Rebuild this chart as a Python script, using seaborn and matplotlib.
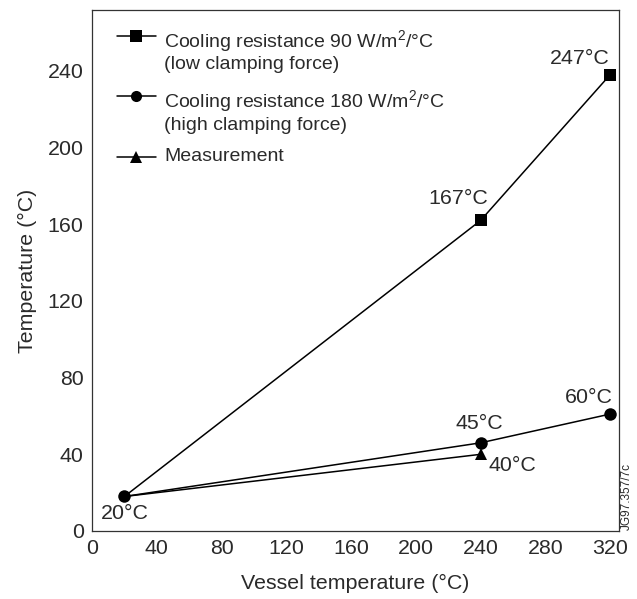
import matplotlib
matplotlib.use("Agg")
import matplotlib.pyplot as plt
import seaborn as sns

# ---- data ----
x_low = [20, 240, 320]
y_low = [18, 162, 238]
x_high = [20, 240, 320]
y_high = [18, 46, 61]
x_meas = [20, 240]
y_meas = [18, 40]

series_labels = [
    "Cooling resistance 90 W/m$^2$/°C\n(low clamping force)",
    "Cooling resistance 180 W/m$^2$/°C\n(high clamping force)",
    "Measurement",
]
point_labels = ["20°C", "167°C", "247°C", "45°C", "40°C", "60°C"]
x_ticks = [0, 40, 80, 120, 160, 200, 240, 280, 320]
y_ticks = [0, 40, 80, 120, 160, 200, 240]

sns.set_theme(style="white")
plt.rcParams["font.family"] = ["Liberation Sans", "DejaVu Sans"]
plt.rcParams["mathtext.fontset"] = "custom"
plt.rcParams["mathtext.rm"] = "Liberation Sans"
plt.rcParams["mathtext.it"] = "Liberation Sans"
TXT = "#2a2a2a"
FS = 15.4
LFS = 14

fig = plt.figure(figsize=(6.37, 5.99), dpi=100)
ax = fig.add_axes([92 / 637, 1 - 531 / 599, 527 / 637, 521 / 599])

common = dict(color="black", markersize=9, linewidth=1.1, markeredgewidth=0, ax=ax)
sns.lineplot(x=x_meas, y=y_meas, marker="^", label=series_labels[2],
             markevery=[1], **common)
sns.lineplot(x=x_low, y=y_low, marker="s", label=series_labels[0],
             markevery=[1, 2], **common)
sns.lineplot(x=x_high, y=y_high, marker="o", label=series_labels[1], **common)

ax.set_xlim(0, 325.5)
ax.set_ylim(0, 271.8)
ax.set_xticks(x_ticks)
ax.set_yticks(y_ticks)
ax.tick_params(direction="in", length=9, width=0.9, colors="#333333",
               labelcolor=TXT, labelsize=FS, pad=6)
for s in ax.spines.values():
    s.set_color("#333333")
    s.set_linewidth(0.9)

ax.set_xlabel("Vessel temperature (°C)", fontsize=FS, color=TXT, labelpad=11)
ax.set_ylabel("Temperature (°C)", fontsize=FS, color=TXT, labelpad=8)

# legend (order: low, high, measurement)
handles, labels = ax.get_legend_handles_labels()
order = [labels.index(l) for l in series_labels]
handles = [handles[i] for i in order]
labels = [labels[i] for i in order]
leg = ax.legend(handles, labels, loc="upper left", bbox_to_anchor=(0.047, 0.966),
                frameon=False, fontsize=LFS, borderpad=0, borderaxespad=0,
                handlelength=2.0, handletextpad=0.45, labelspacing=0.75,
                handleheight=1.2, numpoints=1)
for t in leg.get_texts():
    t.set_color(TXT)
    t.set_linespacing(1.22)
for col in leg._legend_handle_box.get_children():
    for row in col.get_children():
        row.align = "top"
for h in leg.legend_handles:
    h.set_markersize(8)
    h.set_markevery([1])

# point annotations (offsets in points)
pts = [(x_low[0], y_low[0]), (x_low[1], y_low[1]), (x_low[2], y_low[2]),
       (x_high[1], y_high[1]), (x_meas[1], y_meas[1]), (x_high[2], y_high[2])]
offs = [(0, -12), (-16, 16), (-22, 12), (-1, 14), (23, -8), (-15, 12)]
for lab, p, o in zip(point_labels, pts, offs):
    ax.annotate(lab, p, xytext=o, textcoords="offset points", ha="center",
                va="center", fontsize=FS, color=TXT)

fig.text(627 / 637, 1 - 497 / 599, "JG97.357/7c", rotation=90, fontsize=8.5,
         color=TXT, ha="center", va="center")

fig.savefig("out.png", dpi=100)
